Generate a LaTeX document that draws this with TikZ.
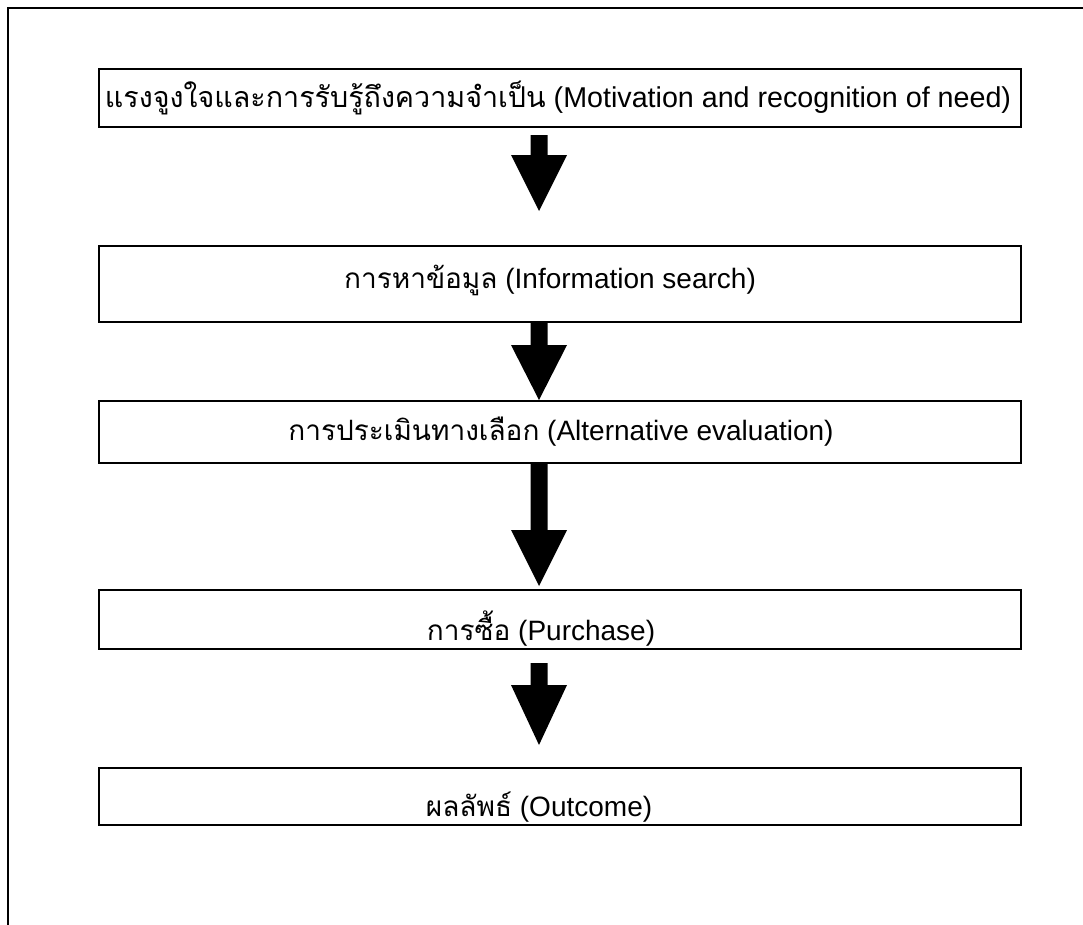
\documentclass[tikz,border=0pt]{standalone}
\usepackage{fontspec}
\setmainfont{Liberation Sans}
\newfontfamily\thai[Script=Thai]{Loma}
\usetikzlibrary{calc}

\tikzset{
  stage/.style={draw=black, line width=1.5pt, minimum width=691.5pt, minimum height=#1, inner sep=0pt, anchor=north west},
  stagetext/.style={font=\fontsize{21}{24}\selectfont, inner sep=0pt},
  frame/.style={line width=1.4pt, line cap=rect},
}

% filled block arrow hanging below a stage box:
% #1 source node, #2 gap, #3 shaft length, #4 head length (all in px units)
\newcommand{\blockarrow}[4]{%
  \fill ($(#1.south)+(-21-8.5,#2)$) -- ++(17,0) -- ++(0,#3) -- ++(19.5,0)
        -- ++(-28,#4) -- ++(-28,-#4) -- ++(19.5,0) -- cycle;}

\begin{document}
\begin{tikzpicture}[x=0.75pt, y=-0.75pt]
  \useasboundingbox (0,0) rectangle (1083,925);

  % outer frame (left and top edges)
  \coordinate (fbl) at (8,925);
  \coordinate (ftl) at (8,8);
  \coordinate (ftr) at (1083,8);
  \draw[frame] (fbl) -- (ftl) -- (ftr);

  % stage boxes
  \node[stage=43.5pt] (b1) at (98,68) {};
  \node[stage=57pt] (b2) at (98,245) {};
  \node[stage=46.5pt] (b3) at (98,400) {};
  \node[stage=44.25pt] (b4) at (98,589) {};
  \node[stage=42.75pt] (b5) at (98,767) {};

  % stage texts
  \node[stagetext, font=\fontsize{21.5}{24}\selectfont] (t1) at ($(b1.center)+(-2,0)$)
    {{\thai แรงจูงใจและการรับรู้ถึงความจำเป็น} (Motivation and recognition of need)};
  \node[stagetext] (t2) at ($(b2.center)+(-10,-4)$)
    {{\thai การหาข้อมูล} (Information search)};
  \node[stagetext] (t3) at ($(b3.center)+(1,0)$)
    {{\thai การประเมินทางเลือก} (Alternative evaluation)};
  \node[stagetext, anchor=base] (t4) at ($(b4.south)+(-19,-10)$)
    {{\thai การซื้อ} (Purchase)};
  \node[stagetext, anchor=base] (t5) at ($(b5.south)+(-21,-10)$)
    {{\thai ผลลัพธ์} (Outcome)};

  % block arrows between stages
  \blockarrow{b1}{7}{20}{56}
  \blockarrow{b2}{0}{22}{55}
  \blockarrow{b3}{0}{66}{56}
  \blockarrow{b4}{13}{22}{60}
\end{tikzpicture}
\end{document}
